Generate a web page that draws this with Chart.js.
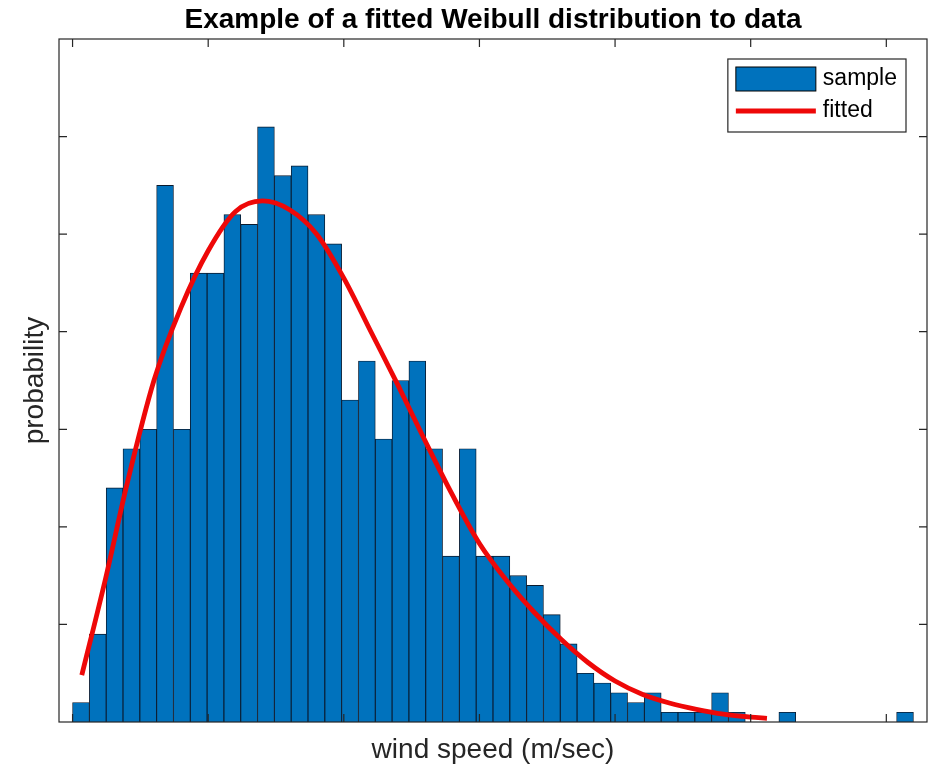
<!DOCTYPE html>
<html>
<head>
<meta charset="utf-8">
<title>Weibull fit</title>
<script src="https://cdn.jsdelivr.net/npm/chart.js@4.4.0/dist/chart.umd.min.js"></script>
<style>
  html, body { margin: 0; padding: 0; background: #fff; }
  #wrap { width: 936px; height: 768px; }
</style>
</head>
<body>
<div id="wrap"><canvas id="chart" width="936" height="768"></canvas></div>
<script>
// histogram of 1000 wind speed samples, as share per bin
const binStart = 0;
const binWidth = 0.62;
const sampleProb = [
  0.002, 0.009, 0.024, 0.028, 0.030, 0.055, 0.030, 0.046, 0.046, 0.052,
  0.051, 0.061, 0.056, 0.057, 0.052, 0.049, 0.033, 0.037, 0.029, 0.035,
  0.037, 0.028, 0.017, 0.028, 0.017, 0.017, 0.015, 0.014, 0.011, 0.008,
  0.005, 0.004, 0.003, 0.002, 0.003, 0.001, 0.001, 0.001, 0.003, 0.001,
  0, 0, 0.001, 0, 0, 0, 0, 0, 0, 0.001
];

// fitted Weibull curve
const fitSpeed = [0.34, 1.2, 2, 3, 4, 5, 6, 7, 8, 9, 10, 11, 12, 13, 14, 15, 16, 17, 18, 19, 20, 21, 22, 23, 24, 25, 25.6];
const fitProb = [0.0048, 0.0145, 0.0243, 0.0350, 0.0425, 0.0483, 0.0523, 0.0534, 0.0525, 0.0500, 0.0455, 0.0400, 0.0345, 0.0288,
  0.0233, 0.0183, 0.0145, 0.0113, 0.0085, 0.0061, 0.0042, 0.00285, 0.00195, 0.0013, 0.0008, 0.0005, 0.00038];

const xLimits = [-0.5, 31.5];
const yLimits = [0, 0.07];
const xStep = 5;
const yStep = 0.01;

const FONT = "'Liberation Sans', Arial, Helvetica, sans-serif";
const AXIS_COLOR = '#262626';
Chart.defaults.font.family = FONT;

// box around the axes with inward ticks on all four sides
const axisBox = {
  id: 'axisBox',
  afterDatasetsDraw(chart) {
    const {ctx, chartArea: a, scales: {x, y}} = chart;
    const len = 8;
    ctx.save();
    ctx.strokeStyle = AXIS_COLOR;
    ctx.lineWidth = 1.2;
    ctx.beginPath();
    x.ticks.forEach(t => {
      const px = x.getPixelForValue(t.value);
      if (px <= a.left + 1 || px >= a.right - 1) return;
      ctx.moveTo(px, a.bottom);
      ctx.lineTo(px, a.bottom - len);
      ctx.moveTo(px, a.top);
      ctx.lineTo(px, a.top + len);
    });
    y.ticks.forEach(t => {
      const py = y.getPixelForValue(t.value);
      if (py <= a.top + 1 || py >= a.bottom - 1) return;
      ctx.moveTo(a.left, py);
      ctx.lineTo(a.left + len, py);
      ctx.moveTo(a.right, py);
      ctx.lineTo(a.right - len, py);
    });
    ctx.stroke();
    ctx.strokeRect(a.left, a.top, a.right - a.left, a.bottom - a.top);
    ctx.restore();
  }
};

// legend in a framed box at the top right of the axes
const boxLegend = {
  id: 'boxLegend',
  afterDraw(chart) {
    const {ctx, chartArea: a} = chart;
    const sets = chart.data.datasets;
    const bars = sets.find(d => d.type === 'bar');
    const curve = sets.find(d => d.type === 'line');
    ctx.save();
    ctx.font = '23px ' + FONT;
    const textW = Math.max(ctx.measureText(bars.label).width, ctx.measureText(curve.label).width);
    const iconW = 80, padL = 8, gap = 7, padR = 9;
    const w = padL + iconW + gap + textW + padR;
    const h = 73;
    const right = a.right - 21;
    const left = right - w;
    const top = a.top + 20;

    ctx.fillStyle = '#fff';
    ctx.fillRect(left, top, w, h);
    ctx.strokeStyle = AXIS_COLOR;
    ctx.lineWidth = 1.2;
    ctx.strokeRect(left, top, w, h);

    const row1 = top + 20, row2 = top + 52;
    ctx.fillStyle = bars.backgroundColor;
    ctx.fillRect(left + padL, row1 - 12, iconW, 24);
    ctx.strokeStyle = '#000';
    ctx.lineWidth = 1;
    ctx.strokeRect(left + padL, row1 - 12, iconW, 24);

    ctx.strokeStyle = curve.borderColor;
    ctx.lineWidth = curve.borderWidth;
    ctx.beginPath();
    ctx.moveTo(left + padL, row2);
    ctx.lineTo(left + padL + iconW, row2);
    ctx.stroke();

    ctx.fillStyle = '#000';
    ctx.textBaseline = 'middle';
    ctx.fillText(bars.label, left + padL + iconW + gap, row1);
    ctx.fillText(curve.label, left + padL + iconW + gap, row2);
    ctx.restore();
  }
};

new Chart(document.getElementById('chart'), {
  type: 'bar',
  data: {
    datasets: [
      {
        type: 'line',
        label: 'fitted',
        data: fitSpeed.map((s, i) => ({x: s, y: fitProb[i]})),
        borderColor: '#ee0808',
        borderWidth: 4.8,
        pointRadius: 0,
        cubicInterpolationMode: 'monotone',
        order: 0
      },
      {
        type: 'bar',
        label: 'sample',
        data: sampleProb.map((p, i) => ({x: binStart + (i + 0.5) * binWidth, y: p})),
        backgroundColor: '#0072BD',
        borderColor: '#0a1a2e',
        borderWidth: 0.9,
        barPercentage: 1,
        categoryPercentage: 1,
        order: 1
      }
    ]
  },
  options: {
    responsive: false,
    animation: false,
    layout: {padding: {left: 0, right: 9, top: 0, bottom: 0}},
    plugins: {
      legend: {display: false},
      tooltip: {enabled: false},
      title: {
        display: true,
        text: 'Example of a fitted Weibull distribution to data',
        fullSize: false,
        color: '#000',
        font: {size: 28, weight: 'bold'},
        padding: {top: 3.4, bottom: 2}
      }
    },
    scales: {
      x: {
        type: 'linear',
        min: xLimits[0],
        max: xLimits[1],
        offset: false,
        grid: {display: false, drawTicks: false},
        border: {display: false},
        ticks: {display: false, stepSize: xStep, includeBounds: false},
        title: {
          display: true,
          text: 'wind speed (m/sec)',
          color: AXIS_COLOR,
          font: {size: 28},
          padding: {top: 11, bottom: 1.4}
        }
      },
      y: {
        min: yLimits[0],
        max: yLimits[1],
        grid: {display: false, drawTicks: false},
        border: {display: false},
        ticks: {display: false, stepSize: yStep, includeBounds: false},
        title: {
          display: true,
          text: 'probability',
          color: AXIS_COLOR,
          font: {size: 28},
          padding: {top: 18.2, bottom: 7.2}
        }
      }
    }
  },
  plugins: [axisBox, boxLegend]
});
</script>
</body>
</html>
